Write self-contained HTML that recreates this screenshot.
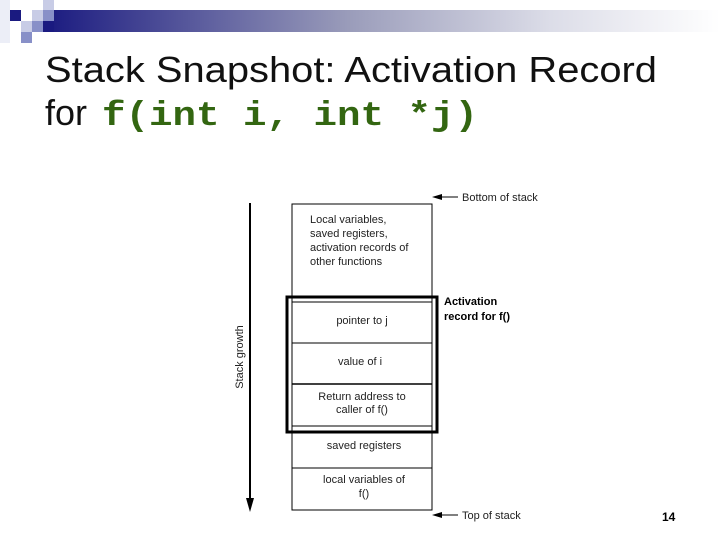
<!DOCTYPE html>
<html><head><meta charset="utf-8"><style>
html,body{margin:0;padding:0;background:#fff;width:720px;height:540px;overflow:hidden}
</style></head><body>
<svg width="720" height="540" xmlns="http://www.w3.org/2000/svg" font-family="Liberation Sans, sans-serif">
<defs>
<linearGradient id="g" x1="0" x2="1" y1="0" y2="0">
<stop offset="0" stop-color="#1a1a80"/>
<stop offset="0.45" stop-color="#9a9cba"/>
<stop offset="0.75" stop-color="#dcdde8"/>
<stop offset="1" stop-color="#ffffff"/>
</linearGradient>
</defs>
<rect x="0" y="0" width="10" height="43" fill="#eceef7"/>
<rect x="44" y="10" width="676" height="22" fill="url(#g)"/>
<rect x="10" y="10" width="11" height="11" fill="#1a1a80"/>
<rect x="32" y="10" width="11" height="11" fill="#c8cce6"/>
<rect x="43" y="0" width="11" height="10" fill="#c8cce6"/>
<rect x="43" y="10" width="11" height="11" fill="#8890c8"/>
<rect x="21" y="21" width="11" height="11" fill="#c8cce6"/>
<rect x="32" y="21" width="11" height="11" fill="#8890c8"/>
<rect x="43" y="21" width="11" height="11" fill="#1a1a80"/>
<rect x="21" y="32" width="11" height="11" fill="#8890c8"/>

<text x="45" y="82" font-size="36" fill="#111" textLength="612" lengthAdjust="spacingAndGlyphs">Stack Snapshot: Activation Record</text>
<text x="45" y="125" font-size="36" fill="#111">for</text>
<text x="102" y="125" font-size="34" font-family="Liberation Mono, monospace" font-weight="bold" fill="#336611" textLength="376" lengthAdjust="spacingAndGlyphs">f(int i, int *j)</text>

<g stroke="#000" fill="none">
<rect x="292" y="204" width="140" height="306" stroke-width="1"/>
<line x1="292" y1="302" x2="432" y2="302"/>
<line x1="292" y1="343" x2="432" y2="343"/>
<line x1="292" y1="384" x2="432" y2="384" stroke-width="1.5"/>
<line x1="292" y1="426" x2="432" y2="426"/>
<line x1="292" y1="468" x2="432" y2="468"/>
<rect x="287" y="297" width="150" height="135" stroke-width="3"/>
<line x1="250" y1="203" x2="250" y2="500" stroke-width="2"/>
<line x1="440" y1="197" x2="458" y2="197"/>
<line x1="440" y1="515" x2="458" y2="515"/>
</g>
<polygon points="246,498 254,498 250,512" fill="#000"/>
<polygon points="432,197 442,194 442,200" fill="#000"/>
<polygon points="432,515 442,512 442,518" fill="#000"/>

<g font-size="11" fill="#222">
<text x="310" y="223">Local variables,</text>
<text x="310" y="237">saved registers,</text>
<text x="310" y="251">activation records of</text>
<text x="310" y="265">other functions</text>
<text x="362" y="324" text-anchor="middle">pointer to j</text>
<text x="360" y="365" text-anchor="middle">value of i</text>
<text x="362" y="400" text-anchor="middle">Return address to</text>
<text x="362" y="413" text-anchor="middle">caller of f()</text>
<text x="364" y="449" text-anchor="middle">saved registers</text>
<text x="364" y="483" text-anchor="middle">local variables of</text>
<text x="364" y="497" text-anchor="middle">f()</text>
<text x="462" y="201">Bottom of stack</text>
<text x="462" y="519">Top of stack</text>
<text x="444" y="305" font-weight="bold" fill="#000">Activation</text>
<text x="444" y="320" font-weight="bold" fill="#000">record for f()</text>
<text transform="translate(243,357) rotate(-90)" text-anchor="middle">Stack growth</text>
</g>
<text x="662" y="521" font-size="12" font-weight="bold">14</text>
</svg>
</body></html>
